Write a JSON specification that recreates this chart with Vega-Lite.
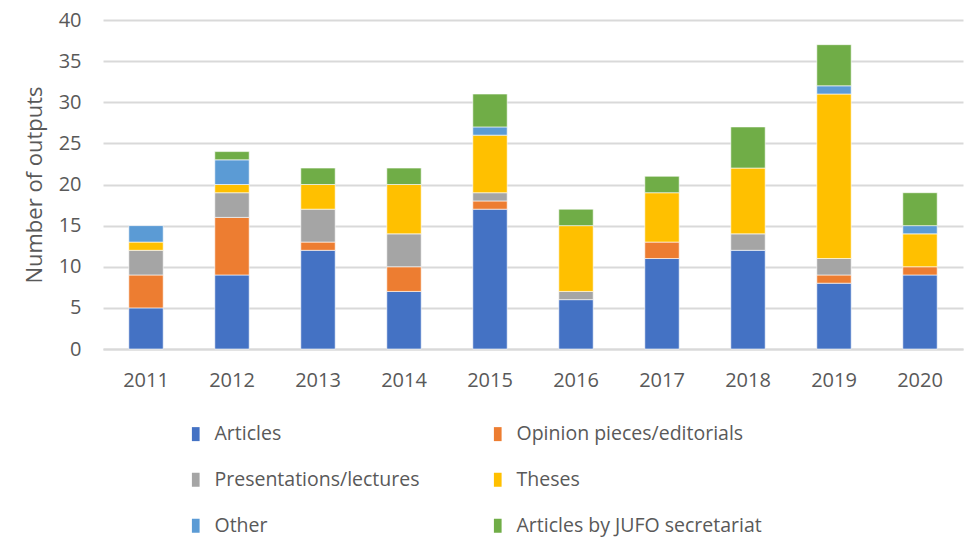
{
  "$schema": "https://vega.github.io/schema/vega-lite/v6.json",
  "width": 860,
  "height": 329,
  "autosize": {"type": "none"},
  "padding": {"left": 103, "top": 20, "right": 5, "bottom": 191},
  "background": "white",
  "config": {
    "font": "Open Sans",
    "view": {"stroke": null}
  },
  "data": {
    "values": [
      {"year": "2011", "type": "Articles", "n": 5},
      {"year": "2011", "type": "Opinion pieces/editorials", "n": 4},
      {"year": "2011", "type": "Presentations/lectures", "n": 3},
      {"year": "2011", "type": "Theses", "n": 1},
      {"year": "2011", "type": "Other", "n": 2},
      {"year": "2012", "type": "Articles", "n": 9},
      {"year": "2012", "type": "Opinion pieces/editorials", "n": 7},
      {"year": "2012", "type": "Presentations/lectures", "n": 3},
      {"year": "2012", "type": "Theses", "n": 1},
      {"year": "2012", "type": "Other", "n": 3},
      {"year": "2012", "type": "Articles by JUFO secretariat", "n": 1},
      {"year": "2013", "type": "Articles", "n": 12},
      {"year": "2013", "type": "Opinion pieces/editorials", "n": 1},
      {"year": "2013", "type": "Presentations/lectures", "n": 4},
      {"year": "2013", "type": "Theses", "n": 3},
      {"year": "2013", "type": "Articles by JUFO secretariat", "n": 2},
      {"year": "2014", "type": "Articles", "n": 7},
      {"year": "2014", "type": "Opinion pieces/editorials", "n": 3},
      {"year": "2014", "type": "Presentations/lectures", "n": 4},
      {"year": "2014", "type": "Theses", "n": 6},
      {"year": "2014", "type": "Articles by JUFO secretariat", "n": 2},
      {"year": "2015", "type": "Articles", "n": 17},
      {"year": "2015", "type": "Opinion pieces/editorials", "n": 1},
      {"year": "2015", "type": "Presentations/lectures", "n": 1},
      {"year": "2015", "type": "Theses", "n": 7},
      {"year": "2015", "type": "Other", "n": 1},
      {"year": "2015", "type": "Articles by JUFO secretariat", "n": 4},
      {"year": "2016", "type": "Articles", "n": 6},
      {"year": "2016", "type": "Presentations/lectures", "n": 1},
      {"year": "2016", "type": "Theses", "n": 8},
      {"year": "2016", "type": "Articles by JUFO secretariat", "n": 2},
      {"year": "2017", "type": "Articles", "n": 11},
      {"year": "2017", "type": "Opinion pieces/editorials", "n": 2},
      {"year": "2017", "type": "Theses", "n": 6},
      {"year": "2017", "type": "Articles by JUFO secretariat", "n": 2},
      {"year": "2018", "type": "Articles", "n": 12},
      {"year": "2018", "type": "Presentations/lectures", "n": 2},
      {"year": "2018", "type": "Theses", "n": 8},
      {"year": "2018", "type": "Articles by JUFO secretariat", "n": 5},
      {"year": "2019", "type": "Articles", "n": 8},
      {"year": "2019", "type": "Opinion pieces/editorials", "n": 1},
      {"year": "2019", "type": "Presentations/lectures", "n": 2},
      {"year": "2019", "type": "Theses", "n": 20},
      {"year": "2019", "type": "Other", "n": 1},
      {"year": "2019", "type": "Articles by JUFO secretariat", "n": 5},
      {"year": "2020", "type": "Articles", "n": 9},
      {"year": "2020", "type": "Opinion pieces/editorials", "n": 1},
      {"year": "2020", "type": "Theses", "n": 4},
      {"year": "2020", "type": "Other", "n": 1},
      {"year": "2020", "type": "Articles by JUFO secretariat", "n": 4}
    ]
  },
  "transform": [
    {"calculate": "indexof(['Articles','Opinion pieces/editorials','Presentations/lectures','Theses','Other','Articles by JUFO secretariat'], datum.type)", "as": "ord"}
  ],
  "mark": {"type": "bar", "stroke": "white", "strokeWidth": 0.6},
  "encoding": {
    "x": {
      "field": "year",
      "type": "ordinal",
      "scale": {"paddingInner": 0.6, "paddingOuter": 0.3},
      "axis": {
        "title": null,
        "labelAngle": 0,
        "labelFontSize": 20,
        "labelColor": "#595959",
        "labelPadding": 21,
        "ticks": false,
        "domainColor": "#d9d9d9",
        "domainWidth": 2
      }
    },
    "y": {
      "field": "n",
      "type": "quantitative",
      "stack": "zero",
      "scale": {"domain": [0, 40]},
      "axis": {
        "title": "Number of outputs",
        "titleFontSize": 22,
        "titleFontWeight": "normal",
        "titleColor": "#595959",
        "titlePadding": 12,
        "values": [0, 5, 10, 15, 20, 25, 30, 35, 40],
        "labelFontSize": 20,
        "labelColor": "#595959",
        "labelPadding": 22,
        "ticks": false,
        "domain": false,
        "gridColor": "#d9d9d9",
        "gridWidth": 2
      }
    },
    "color": {
      "field": "type",
      "type": "nominal",
      "scale": {
        "domain": ["Articles", "Opinion pieces/editorials", "Presentations/lectures", "Theses", "Other", "Articles by JUFO secretariat"],
        "range": ["#4472C4", "#ED7D31", "#A5A5A5", "#FFC000", "#5B9BD5", "#70AD47"]
      },
      "legend": {
        "title": null,
        "orient": "none",
        "legendX": 83,
        "legendY": 404,
        "direction": "horizontal",
        "columns": 2,
        "columnPadding": 68,
        "rowPadding": 25,
        "symbolType": "M-0.55,-1H0.55V1H-0.55Z",
        "symbolSize": 196,
        "symbolStrokeWidth": 0,
        "labelFontSize": 19.5,
        "labelColor": "#595959",
        "labelOffset": 9,
        "labelLimit": 400
      }
    },
    "order": {"field": "ord", "type": "quantitative"}
  }
}
